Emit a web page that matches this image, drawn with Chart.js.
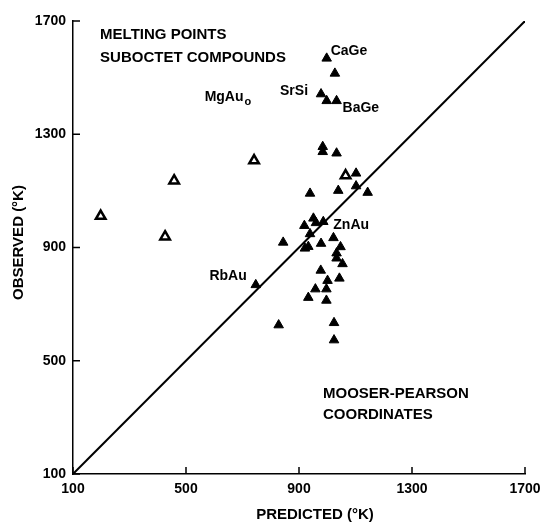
<!DOCTYPE html>
<html>
<head>
<meta charset="utf-8">
<script src="https://cdn.jsdelivr.net/npm/chart.js@4.4.1/dist/chart.umd.min.js"></script>
<style>
  body { margin: 0; background: #fff; }
</style>
</head>
<body>
<canvas id="myChart" width="550" height="522"></canvas>
<script>
  // melting points, predicted vs observed (deg K)
  const predicted = [998, 1027, 978, 998, 1033, 984, 984, 1033, 1102, 1039, 1102, 1143, 939,
    951, 919, 986, 960, 939, 844, 921, 933, 978, 1022, 1047, 1033, 1033, 1054, 977, 1001,
    1043, 958, 997, 933, 997, 747, 828, 1024, 1024];
  const observed = [1568, 1515, 1442, 1418, 1418, 1256, 1238, 1233, 1162, 1101, 1117, 1094, 1091,
    1003, 977, 991, 987, 948, 918, 897, 903, 914, 934, 902, 880, 862, 842, 819, 783,
    791, 753, 753, 723, 713, 768, 626, 634, 573];

  // open symbols
  const predictedOpen = [198, 458, 741, 426, 1065];
  const observedOpen = [1011, 1136, 1207, 938, 1154];

  // named compounds
  const compounds = ['CaGe', 'SrSi', 'BaGe', 'ZnAu', 'RbAu'];
  const compoundPredicted = [998, 978, 1033, 986, 747];
  const compoundObserved = [1568, 1442, 1418, 991, 768];

  const axisTicks = [100, 500, 900, 1300, 1700];

  const FONT = '"Liberation Sans", Arial, sans-serif';
  Chart.defaults.font.family = FONT;
  Chart.defaults.color = '#000';

  const toPoints = (xs, ys) => xs.map((v, i) => ({ x: v, y: ys[i] }));

  // where each compound name sits relative to its symbol
  const labelPlace = {
    CaGe: [4, -7, 'left'],
    SrSi: [-13, -3, 'right'],
    BaGe: [6, 7, 'left'],
    ZnAu: [10, 3, 'left'],
    RbAu: [-9, -9, 'right']
  };

  const notes = [
    { text: 'MELTING POINTS', x: 196, y: 1651 },
    { text: 'SUBOCTET COMPOUNDS', x: 196, y: 1569 },
    { text: 'MOOSER-PEARSON', x: 985, y: 383 },
    { text: 'COORDINATES', x: 985, y: 308 }
  ];

  const annotate = {
    id: 'annotate',
    afterDatasetsDraw(chart) {
      const { ctx, chartArea: a, scales: { x, y } } = chart;
      ctx.save();

      // tick marks point into the plot
      ctx.strokeStyle = '#000';
      ctx.lineWidth = 1.5;
      ctx.beginPath();
      axisTicks.forEach(v => {
        const px = x.getPixelForValue(v);
        ctx.moveTo(px, a.bottom);
        ctx.lineTo(px, a.bottom - 7);
        const py = y.getPixelForValue(v);
        ctx.moveTo(a.left, py);
        ctx.lineTo(a.left + 7, py);
      });
      ctx.stroke();

      ctx.fillStyle = '#000';
      ctx.textBaseline = 'middle';

      ctx.font = 'bold 15px ' + FONT;
      ctx.textAlign = 'left';
      notes.forEach(n => {
        ctx.fillText(n.text, x.getPixelForValue(n.x), y.getPixelForValue(n.y));
      });

      // MgAu with its subscript
      const mx = x.getPixelForValue(566), my = y.getPixelForValue(1432);
      ctx.font = 'bold 14px ' + FONT;
      ctx.fillText('MgAu', mx, my);
      const w = ctx.measureText('MgAu').width;
      ctx.font = 'bold 11px ' + FONT;
      ctx.fillText('o', mx + w + 1, my + 5);

      ctx.font = 'bold 14px ' + FONT;
      compounds.forEach((name, i) => {
        const [dx, dy, align] = labelPlace[name];
        ctx.textAlign = align;
        ctx.fillText(name,
          x.getPixelForValue(compoundPredicted[i]) + dx,
          y.getPixelForValue(compoundObserved[i]) + dy);
      });

      // axis titles
      ctx.font = 'bold 15px ' + FONT;
      ctx.textAlign = 'center';
      ctx.fillText('PREDICTED (°K)', (a.left + a.right) / 2 + 16, a.bottom + 41);
      ctx.translate(19, (a.top + a.bottom) / 2 - 5);
      ctx.rotate(-Math.PI / 2);
      ctx.fillText('OBSERVED (°K)', 0, 0);

      ctx.restore();
    }
  };

  const axis = (extra) => Object.assign({
    type: 'linear',
    min: 100,
    max: 1700,
    afterBuildTicks: s => { s.ticks = axisTicks.map(v => ({ value: v })); },
    grid: { display: true, drawOnChartArea: false, drawTicks: false },
    border: { display: true, color: '#000', width: 1.5 },
    ticks: {
      padding: 7,
      color: '#000',
      font: { size: 14, weight: 'bold' },
      callback: v => String(v)
    }
  }, extra);

  const ctx = document.getElementById('myChart').getContext('2d');
  const myChart = new Chart(ctx, {
    type: 'scatter',
    data: {
      datasets: [
        {
          data: toPoints(predicted, observed),
          pointStyle: 'triangle',
          pointRadius: 5.5,
          backgroundColor: '#000',
          borderColor: '#000',
          borderWidth: 1
        },
        {
          data: toPoints(predictedOpen, observedOpen),
          pointStyle: 'triangle',
          pointRadius: 5.5,
          backgroundColor: '#fff',
          borderColor: '#000',
          borderWidth: 2.5
        },
        {
          // observed = predicted
          data: [{ x: 100, y: 100 }, { x: 1700, y: 1700 }],
          showLine: true,
          pointRadius: 0,
          borderColor: '#000',
          borderWidth: 2
        }
      ]
    },
    options: {
      responsive: false,
      animation: false,
      devicePixelRatio: 1,
      layout: { padding: { left: 0, top: 21, right: 25, bottom: 0 } },
      plugins: { legend: { display: false }, tooltip: { enabled: false } },
      scales: {
        x: axis({ position: 'bottom', afterFit: s => { s.height = 48; } }),
        y: axis({ position: 'left', afterFit: s => { s.width = 73; } })
      }
    },
    plugins: [annotate]
  });
</script>
</body>
</html>
